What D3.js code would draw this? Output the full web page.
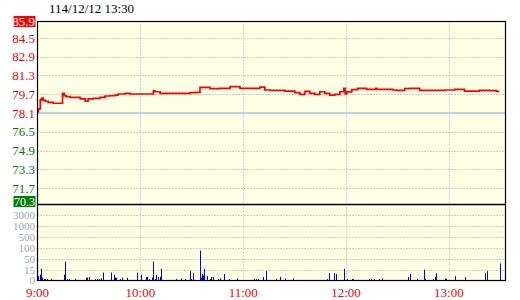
<!DOCTYPE html>
<html><head><meta charset="utf-8">
<script src="https://cdn.jsdelivr.net/npm/d3@7"></script>
<style>
html,body{margin:0;padding:0;background:#fff;}
svg{display:block;font-family:"Liberation Serif","DejaVu Serif",serif;}
</style></head>
<body>
<svg id="c" width="520" height="300"></svg>
<script>
const title = "114/12/12 13:30";
const prevClose = 78.1;
const priceTicks = [85.9, 84.5, 82.9, 81.3, 79.7, 78.1, 76.5, 74.9, 73.3, 71.7, 70.3];
const volTicks = [0, 15, 50, 100, 500, 1000, 3000];
const hourTicks = [0, 60, 120, 180, 240];
const hourLabels = ["9:00", "10:00", "11:00", "12:00", "13:00"];

// price series: minutes after 9:00, price
const priceMin = [0, 0.5, 1.6, 2.2, 2.7, 3.3, 4.5, 6.2, 9.1, 14.6, 15.6, 16.7, 19, 24.9, 27.8, 29.5, 32.4, 36.5, 39.4, 42.3, 45.2, 47, 51.1, 54, 67.6, 68.6, 71.5, 84.1, 89, 91.9, 94.8, 100.6, 106.4, 112.3, 118.1, 129.7, 132.6, 135.6, 144.3, 150.1, 153, 156, 158.9, 161.8, 164.7, 167.6, 170.5, 173.4, 176.4, 178.7, 179.5, 180.4, 183.3, 186.8, 192, 197.3, 197.9, 207.2, 209.5, 214.2, 217.1, 222.9, 237.5, 243.3, 249.1, 257.8, 263.7, 267.7, 269.4];
const priceVal = [78.2, 78.45, 79.2, 79.3, 79.38, 79.2, 79.1, 79.0, 78.93, 79.78, 79.57, 79.49, 79.44, 79.3, 79.1, 79.3, 79.35, 79.44, 79.55, 79.57, 79.63, 79.72, 79.78, 79.72, 79.99, 79.91, 79.78, 79.78, 79.84, 79.86, 80.29, 80.17, 80.2, 80.34, 80.2, 80.3, 80.06, 80.03, 79.97, 79.83, 79.69, 79.94, 79.78, 79.69, 79.91, 79.78, 79.63, 79.69, 79.91, 80.2, 79.72, 79.9, 80.1, 80.2, 80.12, 80.2, 80.12, 80.06, 80.03, 80.17, 80.2, 80.03, 80.06, 80.12, 79.97, 80.03, 80.0, 79.94, 79.94];

// volume bars: minutes after 9:00, volume
const volMin = [0.4, 1.3, 2.3, 2.9, 3.6, 4.5, 5.8, 8, 15.7, 16.3, 17.1, 18.4, 22, 28, 28.8, 30.3, 33.8, 34.6, 35.9, 37.1, 38.3, 42.9, 44.7, 45.3, 46, 48.2, 49.3, 52.4, 58.3, 60.6, 63.3, 63.9, 65, 66.8, 67.6, 68.4, 69.3, 70.5, 71.5, 71.9, 80.8, 83.5, 86.2, 89.1, 89.7, 90.9, 95, 95.5, 96.1, 96.7, 97.3, 99, 100.8, 101.4, 102.2, 105.4, 106.6, 108.9, 111.5, 116.5, 126.4, 127.6, 128.7, 131.6, 133.4, 139.2, 141.6, 144.5, 149.1, 168.9, 170.1, 173, 174.2, 178.8, 180.6, 183.3, 184.1, 193.4, 194.4, 196.3, 199.2, 201, 216.1, 217.3, 221.4, 225.4, 226, 230.7, 231.8, 232.4, 237.7, 238.3, 243.5, 249.3, 261, 262.1, 269.7];
const volVal = [6, 8, 18, 4, 2, 2, 2, 2, 8, 41, 2, 2, 2, 4, 4, 5, 2, 2, 2, 3, 11, 11, 8, 4, 4, 2, 4, 4, 11, 8, 5, 5, 2, 4, 41, 2, 8, 5, 5, 18, 2, 3, 2, 13, 2, 10, 88, 4, 9, 7, 18, 6, 2, 5, 5, 2, 3, 9, 2, 3, 2, 2, 2, 5, 13, 2, 5, 3, 3, 2, 10, 10, 9, 18, 2, 2, 2, 2, 2, 2, 2, 3, 5, 9, 2, 15, 2, 2, 5, 10, 3, 2, 6, 5, 10, 13, 35];

const L = 37.5, R = 505.5, T = 21.5, PB = 204.5, VB = 280.5;
const svg = d3.select("#c");

const x = d3.scaleLinear().domain([0, 273]).range([L, R]);
const y = d3.scaleLinear().domain([70.3, 85.9]).range([PB, T]);
const vStep = (VB - PB) / volTicks.length;
const yv = d3.scaleLinear().domain(volTicks).range(volTicks.map((t, i) => VB - i * vStep));

// background
svg.append("rect").attr("x", L).attr("y", T).attr("width", R - L).attr("height", VB - T).attr("fill", "#ffffe6");

// price horizontal grid
svg.append("g").selectAll("line").data(priceTicks.slice(1, -1).filter(v => v !== prevClose)).join("line")
  .attr("x1", L).attr("x2", R).attr("y1", d => Math.round(y(d)) + 0.5).attr("y2", d => Math.round(y(d)) + 0.5)
  .attr("stroke", "#999").attr("stroke-dasharray", "1,2");
// volume horizontal grid
svg.append("g").selectAll("line").data(volTicks.slice(1)).join("line")
  .attr("x1", L).attr("x2", R).attr("y1", d => Math.round(yv(d)) + 0.5).attr("y2", d => Math.round(yv(d)) + 0.5)
  .attr("stroke", "#999").attr("stroke-dasharray", "1,2");
// vertical hour grid
const hg = svg.append("g");
hg.selectAll(".vp").data(hourTicks.slice(1)).join("line")
  .attr("x1", d => Math.round(x(d)) + 0.5).attr("x2", d => Math.round(x(d)) + 0.5).attr("y1", T).attr("y2", PB)
  .attr("stroke", "#7fb2dc").attr("stroke-dasharray", "1,2");
hg.selectAll(".vv").data(hourTicks.slice(1)).join("line")
  .attr("x1", d => Math.round(x(d)) + 0.5).attr("x2", d => Math.round(x(d)) + 0.5).attr("y1", PB).attr("y2", VB)
  .attr("stroke", "#a0b4b4").attr("stroke-dasharray", "1,2");

// previous close line
svg.append("line").attr("x1", L).attr("x2", R).attr("y1", y(prevClose)).attr("y2", y(prevClose))
  .attr("stroke", "#99c8e8").attr("stroke-width", 1.5);

// volume bars
svg.append("g").selectAll("rect").data(volMin.map((m, i) => [m, volVal[i]])).join("rect")
  .attr("x", d => Math.round(x(d[0]))).attr("width", 1)
  .attr("y", d => yv(d[1])).attr("height", d => VB - yv(d[1]))
  .attr("fill", "#0000ff");

// price line
const line = d3.line().x(d => x(d[0])).y(d => y(d[1])).curve(d3.curveStepAfter);
svg.append("path").datum(priceMin.map((m, i) => [m, priceVal[i]]))
  .attr("d", line).attr("fill", "none").attr("stroke", "#ff0000").attr("stroke-width", 1.7);

// frame
svg.append("rect").attr("x", L).attr("y", T).attr("width", R - L).attr("height", VB - T)
  .attr("fill", "none").attr("stroke", "#000").attr("stroke-width", 1.2);
svg.append("line").attr("x1", L).attr("x2", R).attr("y1", PB).attr("y2", PB).attr("stroke", "#000").attr("stroke-width", 1.5);

// title
svg.append("text").attr("x", 49).attr("y", 13).attr("font-size", 13).attr("fill", "#000").text(title);

// price axis labels
const pl = svg.append("g");
priceTicks.forEach((v, i) => {
  const up = v >= prevClose;
  const last = i === priceTicks.length - 1;
  const edge = i === 0 || last;
  const yy = y(v) - (last ? 3 : 0);
  if (edge) {
    pl.append("rect").attr("x", 13.5).attr("y", yy - 5.5).attr("width", 22).attr("height", 11)
      .attr("fill", up ? "#ff0000" : "#008000");
  }
  pl.append("text").attr("x", 35).attr("y", yy).attr("dy", "0.36em").attr("text-anchor", "end")
    .attr("font-size", last ? 12 : 13).attr("fill", edge ? "#fff" : (up ? "#ff0000" : "#008000")).text(d3.format(".1f")(v));
});
// volume axis labels
svg.append("g").selectAll("text").data(volTicks).join("text")
  .attr("x", 35).attr("y", d => yv(d)).attr("dy", "0.36em").attr("text-anchor", "end")
  .attr("font-size", 11).attr("fill", "#9aa6b4").text(d => d);
// time labels
svg.append("g").selectAll("text").data(hourTicks).join("text")
  .attr("x", d => x(d)).attr("y", 297).attr("text-anchor", "middle")
  .attr("font-size", 13).attr("fill", "#ff0000").text((d, i) => hourLabels[i]);
</script>
</body></html>
